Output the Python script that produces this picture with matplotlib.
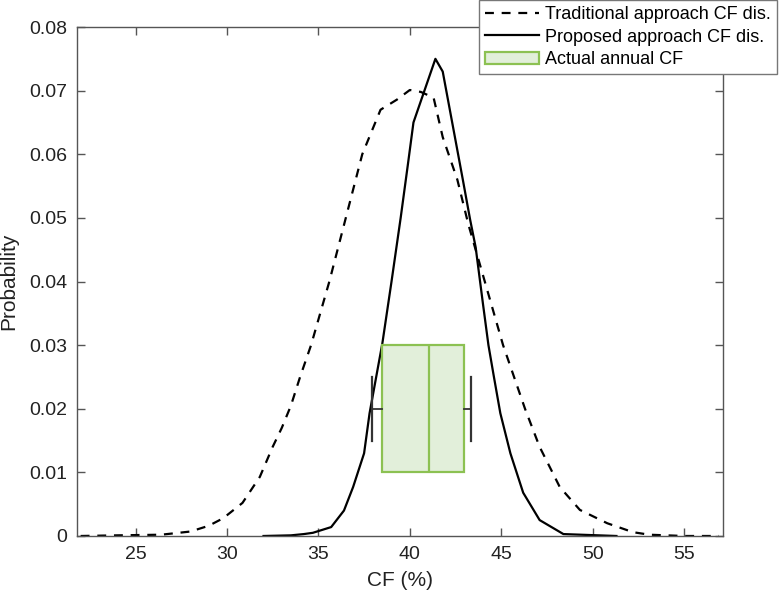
import matplotlib
matplotlib.use("Agg")
import matplotlib.pyplot as plt
from matplotlib.patches import Patch
from matplotlib.lines import Line2D

plt.rcParams["font.family"] = ["Liberation Sans", "DejaVu Sans"]

# === data ===
trad_cf = [22.0, 24.0, 26.4, 28.0, 29.0, 29.8, 30.85, 31.8, 32.5, 33.0, 33.5, 34.0, 34.6,
           35.6, 36.5, 37.4, 38.4, 39.3, 40.0, 40.6, 41.3, 41.8, 42.6, 43.2,
           44.1, 45.1, 46.3, 47.1, 47.8, 48.2, 49.3, 50.8, 52.2, 53.1, 55.0, 56.9]
trad_prob = [0.0, 0.0001, 0.0002, 0.0007, 0.0016, 0.0028, 0.0052, 0.0093, 0.0140, 0.0170,
             0.0205, 0.0250, 0.030, 0.040, 0.050, 0.060, 0.067, 0.0686, 0.0701, 0.0698,
             0.0689, 0.0627, 0.056, 0.049, 0.040, 0.030, 0.020, 0.014, 0.010, 0.0077,
             0.0041, 0.002, 0.0006, 0.0002, 0.0, 0.0]

prop_cf = [32.0, 33.5, 34.2, 34.7, 35.7, 36.4, 36.9, 37.5, 37.8, 38.2, 38.5, 39.0, 39.5,
           39.9, 40.2, 41.4, 41.8, 42.9, 43.3, 43.6, 44.0, 44.3, 44.6, 44.95, 45.5,
           46.2, 47.1, 48.4, 51.3]
prop_prob = [0.0, 0.0001, 0.0003, 0.0005, 0.0014, 0.004, 0.0077, 0.013, 0.0193, 0.0256,
             0.0303, 0.040, 0.050, 0.0585, 0.065, 0.075, 0.073, 0.056, 0.0497, 0.0454,
             0.0365, 0.030, 0.025, 0.0193, 0.013, 0.0068, 0.0025, 0.0003, 0.0]

# actual annual CF box: whisker low, q1, median, q3, whisker high
actual_stats = [37.95, 38.48, 41.04, 42.94, 43.36]
box_y = 0.02

labels = ["Traditional approach CF dis.", "Proposed approach CF dis.", "Actual annual CF"]
xticks = [25, 30, 35, 40, 45, 50, 55]
yticks = [0, 0.01, 0.02, 0.03, 0.04, 0.05, 0.06, 0.07, 0.08]

box_face = "#e2efda"
box_edge = "#8cc152"
axis_col = "#555555"

fig = plt.figure(figsize=(7.8, 5.98), dpi=100)
ax = fig.add_axes([0.0987, 0.1037, 0.8283, 0.8511])

ax.plot(trad_cf, trad_prob, color="black", linestyle=(0, (4, 3.5)), linewidth=1.6)
ax.plot(prop_cf, prop_prob, color="black", linestyle="-", linewidth=1.6)

stats = [{
    "whislo": actual_stats[0], "q1": actual_stats[1], "med": actual_stats[2],
    "q3": actual_stats[3], "whishi": actual_stats[4], "fliers": [],
}]
ax.bxp(stats, positions=[box_y], widths=0.02, capwidths=0.01,
       orientation="horizontal", patch_artist=True, showfliers=False,
       boxprops=dict(facecolor=box_face, edgecolor=box_edge, linewidth=1.6),
       medianprops=dict(color=box_edge, linewidth=1.6),
       whiskerprops=dict(color="#333333", linewidth=1.3),
       capprops=dict(color="#333333", linewidth=1.6),
       manage_ticks=False, zorder=3)

ax.set_xlim(21.8, 57.13)
ax.set_ylim(0, 0.08)
ax.set_xticks(xticks)
ax.set_yticks(yticks)
ax.set_yticklabels(["0", "0.01", "0.02", "0.03", "0.04", "0.05", "0.06", "0.07", "0.08"])
ax.tick_params(direction="in", top=True, right=True, length=6, width=1,
               colors=axis_col, labelcolor="#222222", labelsize=14, pad=7)
for sp in ax.spines.values():
    sp.set_color(axis_col)
    sp.set_linewidth(1.0)
ax.set_xlabel("CF (%)", fontsize=15, color="#222222", labelpad=6)
ax.set_ylabel("Probability", fontsize=15, color="#222222", labelpad=8)

handles = [
    Line2D([], [], color="black", linestyle=(0, (4, 3.5)), linewidth=1.6),
    Line2D([], [], color="black", linestyle="-", linewidth=1.6),
    Patch(facecolor=box_face, edgecolor=box_edge, linewidth=1.6),
]
leg = fig.legend(handles, labels, loc="upper right", bbox_to_anchor=(0.996, 1.0),
                 fontsize=13, frameon=True, fancybox=False, framealpha=1,
                 edgecolor="#777777", handlelength=3.0, handletextpad=0.3,
                 labelspacing=0.3, borderpad=0.35, borderaxespad=0.0)
leg.get_frame().set_linewidth(1.0)

fig.savefig("out.png", dpi=100)
